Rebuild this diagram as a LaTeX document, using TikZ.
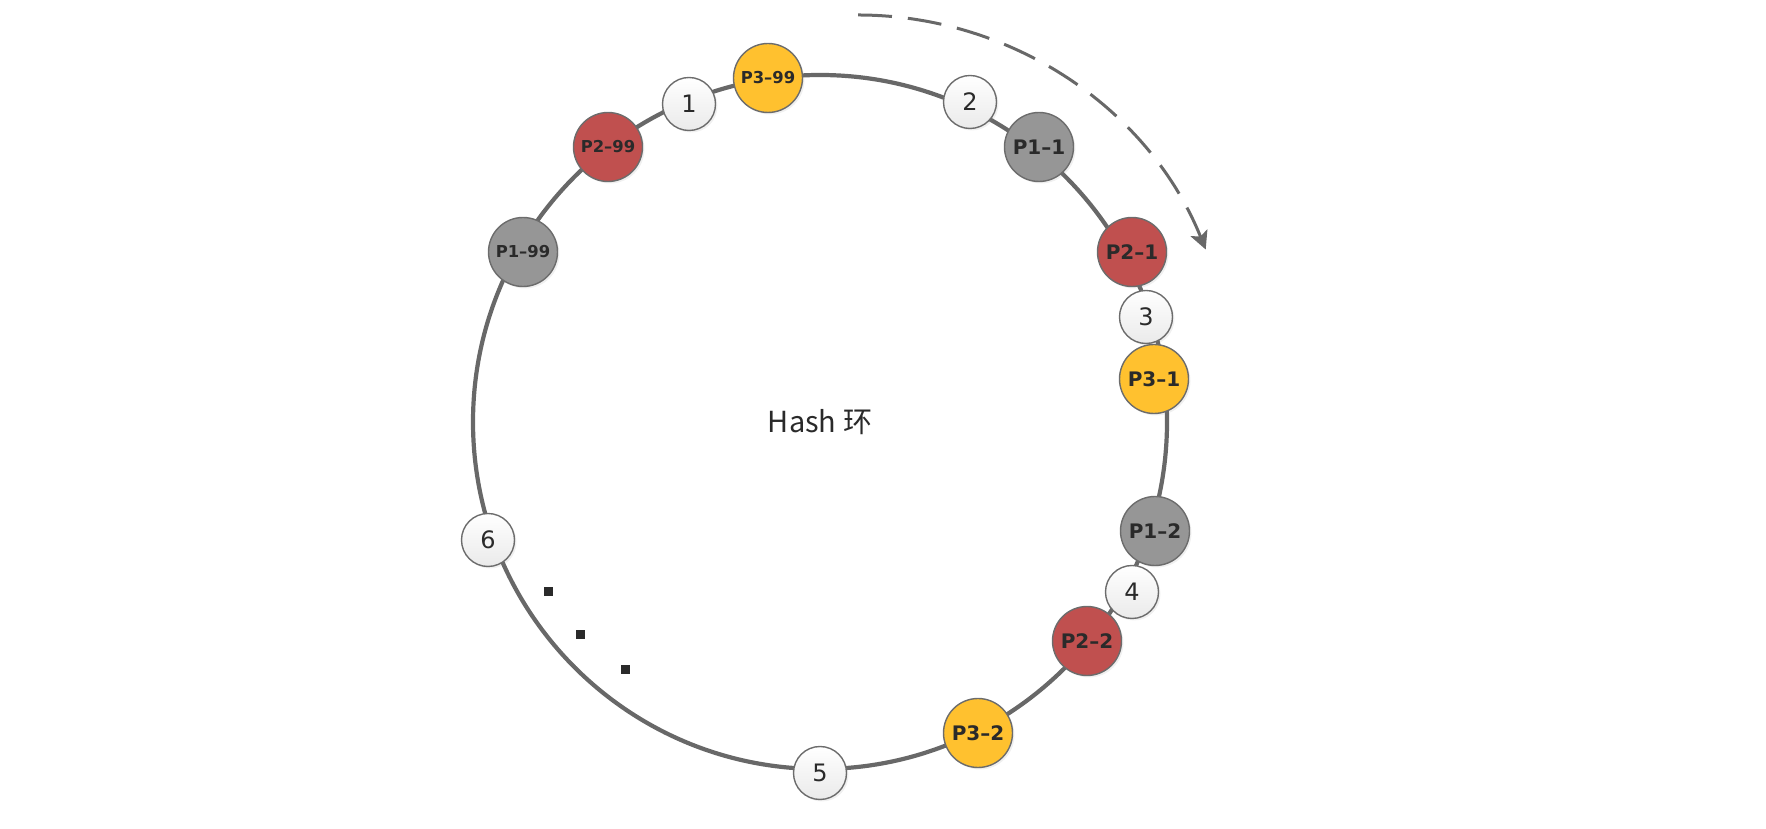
\documentclass[tikz,border=0pt]{standalone}
\usepackage{fontspec}
\setmainfont{DejaVu Sans}
\newfontfamily\cjkfont{Noto Sans CJK SC}
\usetikzlibrary{shadows,arrows.meta}
\definecolor{ringgray}{HTML}{686868}
\definecolor{edgegray}{HTML}{6C6C6C}
\definecolor{labelgray}{HTML}{2A2A2A}
\definecolor{nodegray}{HTML}{969696}
\definecolor{nodered}{HTML}{C0504F}
\definecolor{nodeyellow}{HTML}{FFC12F}
\definecolor{hashshade}{HTML}{EAEAEA}

\begin{document}
\begin{tikzpicture}[x=0.5pt,y=0.5pt,
  ball/.style={circle,draw=edgegray,line width=0.7pt,inner sep=0pt,text=labelgray,
    drop shadow={shadow xshift=1pt,shadow yshift=-1pt,opacity=0.12}},
  vnode/.style={ball,minimum size=34.5pt,font=\bfseries\fontsize{10}{12}\selectfont},
  vsmall/.style={vnode,font=\bfseries\fontsize{8.2}{9}\selectfont},
  vgray/.style={fill=nodegray},
  vred/.style={fill=nodered},
  vyellow/.style={fill=nodeyellow},
  hashnode/.style={ball,minimum size=26.5pt,top color=white,bottom color=hashshade,
    font=\fontsize{12}{14}\selectfont},
  ring/.style={draw=ringgray,line width=2.1pt},
  sweep/.style={draw=ringgray,line width=1.5pt,dash pattern=on 17pt off 8pt,
    -{Stealth[length=9pt,width=9pt,inset=2pt]}},
  dotsq/.style={fill=labelgray,minimum size=4.5pt,inner sep=0pt}]

\useasboundingbox (0,0) rectangle (1766,829);

\draw[ring] (820,407) coordinate (c) circle[radius=347];
\node[font=\cjkfont\fontsize{14.5}{16}\selectfont,text=labelgray] (title) at (c) {Hash 环};

\node[hashnode] (h1) at (689,725) {1};
\node[vsmall,vyellow] (p399) at (768,751) {P3–99};
\node[hashnode] (h2) at (970,727) {2};
\node[vnode,vgray] (p11) at (1039,682) {P1–1};
\node[vnode,vred] (p21) at (1132,577) {P2–1};
\node[hashnode] (h3) at (1146,512) {3};
\node[vnode,vyellow] (p31) at (1154,450) {P3–1};
\node[vnode,vgray] (p12) at (1155,298) {P1–2};
\node[hashnode] (h4) at (1132,237) {4};
\node[vnode,vred] (p22) at (1087,188) {P2–2};
\node[vnode,vyellow] (p32) at (978,96) {P3–2};
\node[hashnode] (h5) at (820,56) {5};
\node[hashnode] (h6) at (488,289) {6};
\node[vsmall,vgray] (p199) at (523,577) {P1–99};
\node[vsmall,vred] (p299) at (608,682) {P2–99};

\node[dotsq] (d1) at (548,237) {};
\node[dotsq] (d2) at (580,194) {};
\node[dotsq] (d3) at (625,159) {};

\draw[sweep] (858,814) coordinate (s) arc[start angle=90,end angle=22,radius=375];

\end{tikzpicture}
\end{document}
